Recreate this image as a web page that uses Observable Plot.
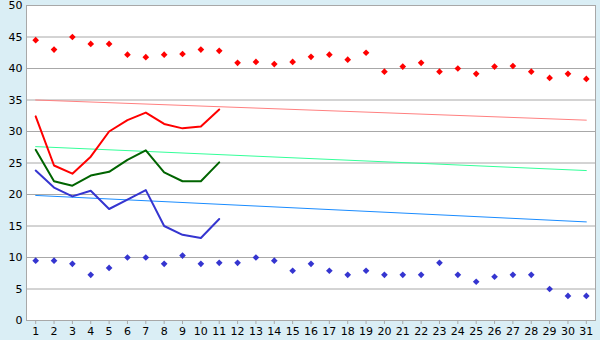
<!DOCTYPE html>
<html><head><meta charset="utf-8">
<script src="https://cdn.jsdelivr.net/npm/d3@7"></script>
<script src="https://cdn.jsdelivr.net/npm/@observablehq/plot@0.6"></script>
<style>
html,body{margin:0;padding:0;background:#daeef5;}
</style>
</head><body>
<div id="chart"></div>
<script>
const days = d3.range(1, 32);
const redDots = [44.5,43,45,43.9,43.9,42.2,41.8,42.2,42.3,43,42.8,40.9,41.05,40.7,41.05,41.85,42.2,41.4,42.5,39.5,40.3,40.9,39.5,40,39.15,40.3,40.4,39.5,38.5,39.15,38.35];
const blueDots = [9.5,9.5,9,7.25,8.35,10,10,9,10.3,9,9.15,9.15,10,9.5,7.9,9,7.9,7.25,7.9,7.25,7.25,7.25,9.15,7.25,6.15,6.95,7.25,7.25,5,3.9,3.9];
const lineDays = d3.range(1, 12);
const redLine = [32.4,24.6,23.3,26.0,30.0,31.8,33.0,31.2,30.5,30.8,33.5];
const greenLine = [27.1,22.1,21.4,23.0,23.6,25.5,27.0,23.5,22.1,22.1,25.1];
const blueLine = [23.8,21.1,19.7,20.6,17.7,19.2,20.7,15.0,13.6,13.1,16.1];
const trendDays = [1, 31];
const pinkTrend = [35.0, 31.8];
const mintTrend = [27.6, 23.8];
const skyTrend = [19.85, 15.65];
const yTicks = d3.range(0, 51, 5);

const pts = (xs, ys) => xs.map((x, i) => ({x, y: ys[i]}));

const chart = Plot.plot({
  width: 600, height: 340,
  marginLeft: 26, marginRight: 5, marginTop: 5, marginBottom: 20,
  style: {background: "#daeef5", fontFamily: "DejaVu Sans, sans-serif", fontSize: "11px", color: "#000"},
  x: {domain: [0.5, 31.5]},
  y: {domain: [0, 50]},
  marks: [
    Plot.frame({fill: "white", stroke: "none"}),
    Plot.ruleY(yTicks, {stroke: "#a8a8a8", strokeWidth: 1}),
    Plot.frame({stroke: "#a8a8a8", fill: "none"}),
    Plot.axisY(yTicks, {tickSize: 0, tickPadding: 4, label: null, fontSize: 11}),
    Plot.axisX(days, {tickSize: 4, tickPadding: 3, label: null, stroke: "#a8a8a8", fontSize: 11}),
    Plot.line(pts(trendDays, pinkTrend), {x: "x", y: "y", stroke: "#ff8080", strokeWidth: 1}),
    Plot.line(pts(trendDays, mintTrend), {x: "x", y: "y", stroke: "#33ff99", strokeWidth: 1}),
    Plot.line(pts(trendDays, skyTrend), {x: "x", y: "y", stroke: "#1a8cff", strokeWidth: 1}),
    Plot.line(pts(lineDays, redLine), {x: "x", y: "y", stroke: "#ff0000", strokeWidth: 2}),
    Plot.line(pts(lineDays, greenLine), {x: "x", y: "y", stroke: "#006400", strokeWidth: 2}),
    Plot.line(pts(lineDays, blueLine), {x: "x", y: "y", stroke: "#3535d0", strokeWidth: 2}),
    Plot.dot(pts(days, redDots), {x: "x", y: "y", symbol: "diamond2", r: 3, fill: "#ff0000", stroke: "none"}),
    Plot.dot(pts(days, blueDots), {x: "x", y: "y", symbol: "diamond2", r: 3, fill: "#3535d0", stroke: "none"})
  ]
});
document.getElementById("chart").append(chart);
</script>
</body></html>
